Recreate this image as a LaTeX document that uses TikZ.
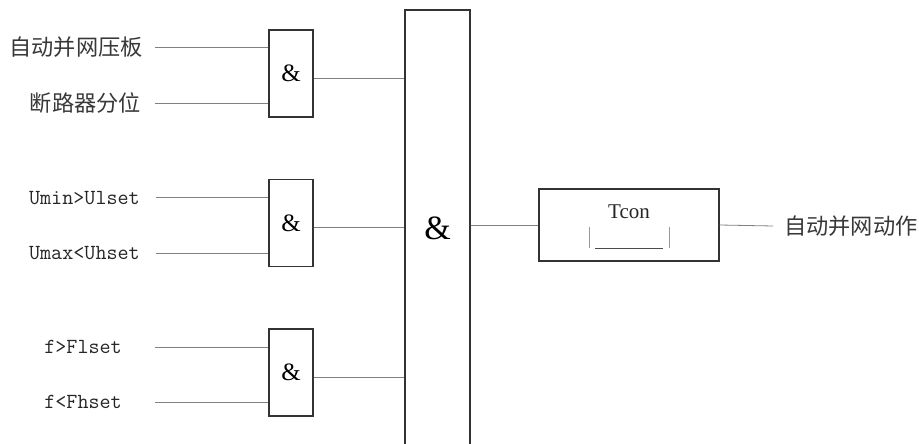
\documentclass[tikz,border=0pt]{standalone}
\usepackage{fontspec}
\setmainfont{Liberation Serif}
\newfontfamily\cjk{Noto Sans CJK SC}

\tikzset{
  gate/.style={draw=black!80, line width=1.2pt, minimum width=44pt, minimum height=87pt,
    inner sep=0pt, font=\fontsize{25}{25}\selectfont},
  wire/.style={draw=black!50, line width=0.8pt},
  cnlabel/.style={inner sep=0pt, text=black!78, font=\cjk\fontsize{22.2}{23}\selectfont},
  siglabel/.style={anchor=east, inner sep=0pt, text=black!85, font=\ttfamily\fontsize{21.5}{22}\selectfont}
}

\begin{document}
\begin{tikzpicture}[x=1pt, y=-1pt]
  \useasboundingbox (0,0) rectangle (919,444);
  \clip (0,0) rectangle (919,444);

  % input AND gates
  \node[gate] (g1) at (291,73.5) {\&};
  \node[gate] (g2) at (291,223) {\&};
  \node[gate] (g3) at (291,372.5) {\&};

  % main AND, open at the bottom
  \node[draw=black!80, line width=1.2pt, minimum width=65pt, minimum height=450pt, inner sep=0pt] (andall) at (437.5,235) {};
  \node[font=\fontsize{34}{34}\selectfont, inner sep=0pt] (amp) at (437.5,228) {\&};

  % delay block
  \node[draw=black!80, line width=1.2pt, minimum width=180pt, minimum height=72pt, inner sep=0pt] (tdelay) at (629,225) {};
  \node[font=\fontsize{21}{21}\selectfont, inner sep=0pt, text=black!85] (tcon) at (629,212) {Tcon};
  \draw[black!40, line width=0.7pt] (589,227) -- (589,248) (669,227) -- (669,248);
  \draw[black!70, line width=0.7pt] (595,248) -- (663,248);

  % signal names
  \node[cnlabel, anchor=east] (s1) at (143,47) {自动并网压板};
  \node[cnlabel, anchor=east] (s2) at (141,103) {断路器分位};
  \node[siglabel] (s3) at (140,198) {Umin>Ulset};
  \node[siglabel] (s4) at (140,253) {Umax<Uhset};
  \node[siglabel] (s5) at (122,347) {f>Flset};
  \node[siglabel] (s6) at (122,402) {f<Fhset};
  \node[cnlabel, anchor=west] (res) at (784,226) {自动并网动作};

  % free ends of the input lines
  \coordinate (i1) at (155,47);
  \coordinate (i2) at (155,103);
  \coordinate (i3) at (156,197);
  \coordinate (i4) at (156,253);
  \coordinate (i5) at (155,347);
  \coordinate (i6) at (155,402);
  \coordinate (o1) at (773,226);

  % wiring
  \draw[wire] (i1) -- (i1 -| g1.west);
  \draw[wire] (i2) -- (i2 -| g1.west);
  \draw[wire] (i3) -- (i3 -| g2.west);
  \draw[wire] (i4) -- (i4 -| g2.west);
  \draw[wire] (i5) -- (i5 -| g3.west);
  \draw[wire] (i6) -- (i6 -| g3.west);
  \draw[wire] ([yshift=-4.5pt]g1.east) -- ([yshift=-4.5pt]g1.east -| andall.west);
  \draw[wire] ([yshift=-4pt]g2.east) -- ([yshift=-4pt]g2.east -| andall.west);
  \draw[wire] ([yshift=-4.5pt]g3.east) -- ([yshift=-4.5pt]g3.east -| andall.west);
  \draw[wire] (andall.east |- tdelay.west) -- (tdelay.west);
  \draw[wire] (tdelay.east) -- (o1);
\end{tikzpicture}
\end{document}
